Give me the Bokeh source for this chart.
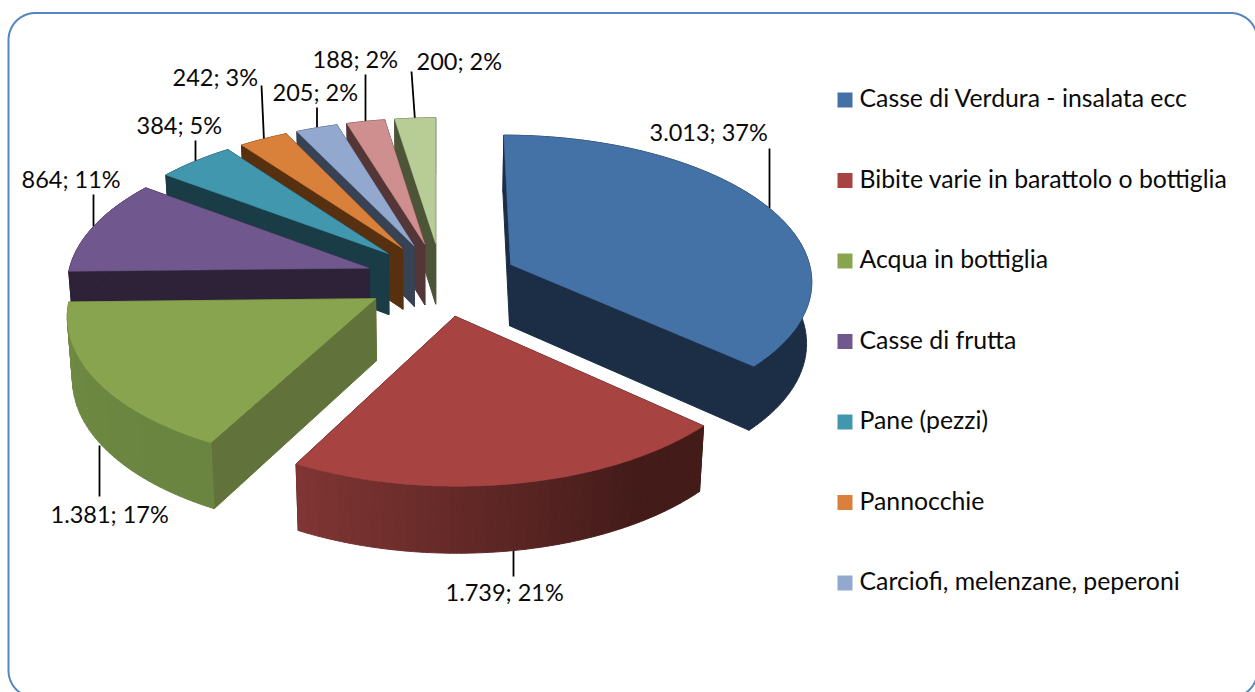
import numpy as np
from bokeh.plotting import figure
from bokeh.core.properties import value
from bokeh.embed import file_html
from bokeh.resources import INLINE

# ---- data ----
values = [3013, 1739, 1381, 864, 384, 242, 205, 188, 200]
legend_names = ["Casse di Verdura - insalata ecc",
                "Bibite varie in barattolo o bottiglia",
                "Acqua in bottiglia",
                "Casse di frutta",
                "Pane (pezzi)",
                "Pannocchie",
                "Carciofi, melenzane, peperoni"]
top_colors = ["#4471A6", "#A74442", "#88A44E", "#70588E", "#4097AE",
              "#D9813B", "#92A8CE", "#CF8F8E", "#B8CC95"]
wall_colors = ["#1B2E46", "#431B19", "#61733A", "#2D2238", "#1A3C47",
               "#57300F", "#374254", "#553636", "#4D5539"]
rim_left = ["#1B2E46", "#7F3533", "#6F8A41", "#2D2238", "#1A3C47",
            "#57300F", "#374254", "#553636", "#4D5539"]
rim_right = ["#1B2E46", "#431B19", "#6A8540", "#2D2238", "#1A3C47",
             "#57300F", "#374254", "#553636", "#4D5539"]
# label layout: left x, vertical centre, leader x0, y0, x1, y1 (page pixels)
label_left = [649, 445, 50, 21, 136, 172, 272, 312, 416]
label_mid = [131, 591, 513, 178, 124, 76, 91, 58, 60.5]
leader_x0 = [769, 513, 99, 93, 195, 261, 316.5, 365, 411]
leader_y0 = [148, 550, 445, 194, 140, 85, 107, 74, 71]
leader_x1 = [769, 513, 99, 93, 195, 263.5, 316.5, 365, 414.5]
leader_y1 = [208, 576, 496, 226, 162, 140, 130, 123, 120]

# ---- perspective pie model ----
VX, VY = 435.0, 278.7      # principal point
OFFX = 6.0
A, B = 302.0, 145.0
K, M = 0.10, 0.014
DEPTH = 62.5
EXPL = 0.253


def project(X, Y, Z=0.0):
    w = 1 + K * np.asarray(Y) + M * Z
    return (VX + (OFFX + A * np.asarray(X)) / w,
            VY + (-B * np.asarray(Y) + DEPTH * Z) / w)


total = float(sum(values))
edges = np.cumsum([0] + values) / total * 2 * np.pi


def hex2rgb(h):
    return np.array([int(h[i:i + 2], 16) for i in (1, 3, 5)], dtype=float)


def mix(a, b, t):
    c = hex2rgb(a) * (1 - t) + hex2rgb(b) * t
    return "#%02x%02x%02x" % tuple(int(round(v)) for v in c)


W, H = 1255, 692
p = figure(width=W, height=H, x_range=(0, W), y_range=(H, 0),
           toolbar_location=None, output_backend="svg", min_border=0,
           outline_line_color=None, background_fill_color="white",
           border_fill_color="white")
p.axis.visible = False
p.grid.visible = False

# rounded frame
L, T, R_, Bm, r = 8.0, 12.5, 1257.0, 697.0, 27.0
t = np.linspace(0, np.pi / 2, 24)
fx = np.concatenate([L + r - r * np.cos(t), R_ - r + r * np.sin(t),
                     R_ - r + r * np.cos(t), L + r - r * np.sin(t), [L]])
fy = np.concatenate([T + r - r * np.sin(t), T + r - r * np.cos(t),
                     Bm - r + r * np.sin(t), Bm - r + r * np.cos(t), [T + r]])
p.line(fx, fy, line_color="#5585C0", line_width=2)

# leaders sit under the slices
for x0, y0, x1, y1 in zip(leader_x0, leader_y0, leader_x1, leader_y1):
    p.line([x0, x1], [y0, y1], line_color="black", line_width=1.8)

# painter's order: far slices first
order = [8, 7, 6, 5, 4, 3, 0, 2, 1]
for i in order:
    a0, a1 = edges[i], edges[i + 1]
    mid = (a0 + a1) / 2
    ex, ey = EXPL * np.sin(mid), EXPL * np.cos(mid)
    th = np.linspace(a0, a1, max(6, int((a1 - a0) * 120)))
    rx, ry = ex + np.sin(th), ey + np.cos(th)

    # radial walls
    for a in (a1, a0) if i != 0 else (a0, a1):
        ox, oy = ex + np.sin(a), ey + np.cos(a)
        q = [(ex, ey, 0), (ox, oy, 0), (ox, oy, 1), (ex, ey, 1)]
        sx, sy = zip(*[project(*c) for c in q])
        p.patch(list(map(float, sx)), list(map(float, sy)),
                fill_color=wall_colors[i], line_color=wall_colors[i], line_width=1.0)

    # rim wall: one outline when flat, bands where it carries shading
    if rim_left[i] == rim_right[i]:
        sx0, sy0 = project(rx, ry, 0.0)
        sx1, sy1 = project(rx[::-1], ry[::-1], 1.0)
        p.patch(np.concatenate([sx0, sx1]), np.concatenate([sy0, sy1]),
                fill_color=rim_left[i], line_color=rim_left[i], line_width=1.0)
    else:
        n_bands = 40
        for b in range(n_bands):
            j0 = int(b * (len(th) - 1) / n_bands)
            j1 = int((b + 1) * (len(th) - 1) / n_bands)
            sx0, sy0 = project(rx[j0:j1 + 1], ry[j0:j1 + 1], 0.0)
            sx1, sy1 = project(rx[j0:j1 + 1][::-1], ry[j0:j1 + 1][::-1], 1.0)
            u = 1 - b / (n_bands - 1)        # 1 at the left on screen
            c = mix(rim_left[i], rim_right[i], min(1.0, u / 0.8))
            p.patch(np.concatenate([sx0, sx1]), np.concatenate([sy0, sy1]),
                    fill_color=c, line_color=c, line_width=1.0)

    # top face
    tx = np.concatenate([[ex], rx])
    ty = np.concatenate([[ey], ry])
    sx, sy = project(tx, ty, 0.0)
    p.patch(sx, sy, fill_color=top_colors[i], line_color=top_colors[i], line_width=0.5)

# data labels
FONT = value("Lato")
for v, x, y in zip(values, label_left, label_mid):
    pct = int(round(v / total * 100))
    txt = f"{v:,}".replace(",", ".") + f"; {pct}%"
    p.text([x], [y], text=[txt], text_font=FONT, text_font_size="23.5px",
           text_color="#0a0a0a", text_align="left", text_baseline="middle")

# legend
LEG_TOP, LEG_STEP = 99.5, 80.5
for k, name in enumerate(legend_names):
    y = LEG_TOP + k * LEG_STEP
    p.patch([837, 852, 852, 837], [y - 7.5, y - 7.5, y + 7.5, y + 7.5],
            fill_color=top_colors[k], line_color=None)
    p.text([859], [y - 2.5], text=[name], text_font=FONT, text_font_size="24.8px",
           text_color="#0a0a0a", text_align="left", text_baseline="middle")

open("out.html", "w").write(file_html(p, INLINE))
